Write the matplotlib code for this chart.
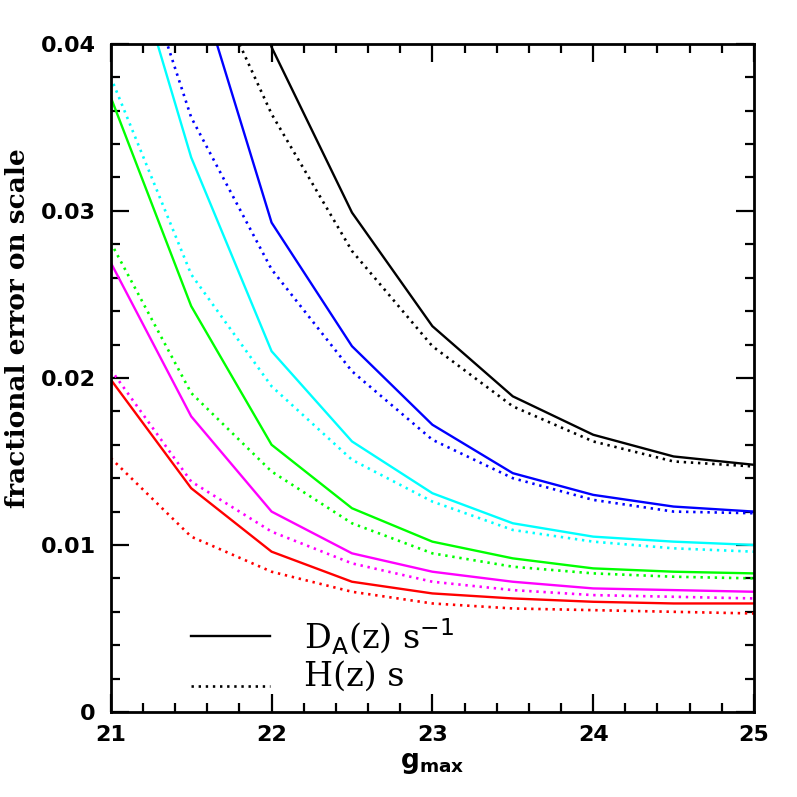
import numpy as np
import matplotlib
matplotlib.use("Agg")
import matplotlib.pyplot as plt
from matplotlib.ticker import MultipleLocator

g_max = [21.0, 21.5, 22.0, 22.5, 23.0, 23.5, 24.0, 24.5, 25.0]

colors = ["black", "blue", "cyan", "lime", "magenta", "red"]

# D_A(z) s^-1 (solid)
da_black = [0.080, 0.056, 0.0398, 0.0299, 0.0231, 0.0189, 0.0166, 0.0153, 0.0148]
da_blue = [0.065, 0.0450, 0.0293, 0.0219, 0.0172, 0.0143, 0.0130, 0.0123, 0.0120]
da_cyan = [0.0494, 0.0332, 0.0216, 0.0162, 0.0131, 0.0113, 0.0105, 0.0102, 0.0100]
da_green = [0.0368, 0.0243, 0.0160, 0.0122, 0.0102, 0.0092, 0.0086, 0.0084, 0.0083]
da_magenta = [0.0269, 0.0177, 0.0120, 0.0095, 0.0084, 0.0078, 0.0074, 0.0073, 0.0072]
da_red = [0.0199, 0.0134, 0.0096, 0.0078, 0.0071, 0.0068, 0.0066, 0.0065, 0.0065]

# H(z) s (dotted)
h_black = [0.065, 0.0463, 0.0358, 0.0276, 0.0219, 0.0183, 0.0162, 0.0150, 0.0147]
h_blue = [0.0503, 0.0356, 0.0265, 0.0204, 0.0163, 0.0140, 0.0127, 0.0120, 0.0119]
h_cyan = [0.0380, 0.0262, 0.0195, 0.0151, 0.0126, 0.0109, 0.0102, 0.0098, 0.0096]
h_green = [0.0281, 0.0191, 0.0144, 0.0113, 0.0095, 0.0087, 0.0083, 0.0081, 0.0080]
h_magenta = [0.0205, 0.0138, 0.0108, 0.0089, 0.0078, 0.0073, 0.0070, 0.0069, 0.0068]
h_red = [0.0152, 0.0105, 0.0084, 0.0072, 0.0065, 0.0062, 0.0061, 0.0060, 0.0059]

da_all = [da_black, da_blue, da_cyan, da_green, da_magenta, da_red]
h_all = [h_black, h_blue, h_cyan, h_green, h_magenta, h_red]

dotted = (0, (0.9, 1.8))

fig = plt.figure(figsize=(7.97, 7.97), dpi=100)
ax = fig.add_axes([0.139, 0.1066, 0.807, 0.8384])

for c, da, h in zip(colors, da_all, h_all):
    ax.plot(g_max, da, color=c, lw=1.7, solid_joinstyle="miter")
    ax.plot(g_max, h, color=c, lw=1.9, linestyle=dotted)

ax.set_xlim(21, 25)
ax.set_ylim(0, 0.04)
ax.xaxis.set_minor_locator(MultipleLocator(0.2))
ax.yaxis.set_minor_locator(MultipleLocator(0.002))
ax.set_yticks([0, 0.01, 0.02, 0.03, 0.04])
ax.set_yticklabels(["0", "0.01", "0.02", "0.03", "0.04"])
ax.set_xticks([21, 22, 23, 24, 25])
ax.set_xticklabels(["21", "22", "23", "24", "25"])

ax.tick_params(which="both", direction="in", top=True, right=True, width=1.6)
ax.tick_params(which="major", length=13)
ax.tick_params(which="minor", length=6.5)
ax.tick_params(axis="y", labelsize=16, pad=11)
ax.tick_params(axis="x", labelsize=16, pad=9)
for lab in ax.get_xticklabels() + ax.get_yticklabels():
    lab.set_fontweight("bold")
for sp in ax.spines.values():
    sp.set_linewidth(2)

ax.set_xlabel(r"$\mathbf{g_{max}}$", fontsize=19, labelpad=4)
ax.set_ylabel("fractional error on scale", fontsize=19, fontweight="bold",
              family="DejaVu Serif")
ax.yaxis.set_label_coords(-0.126, 0.575)

# legend drawn by hand in data coordinates
ax.plot([21.5, 21.99], [0.00455, 0.00455], color="black", lw=1.7)
ax.plot([21.5, 21.99], [0.00156, 0.00156], color="black", lw=1.9, linestyle=dotted)
ax.text(22.2, 0.0045, r"D$_\mathrm{A}$(z) s$^{-1}$", fontsize=24,
        family="DejaVu Serif", va="center", ha="left")
ax.text(22.2, 0.0021, "H(z) s", fontsize=24, family="DejaVu Serif",
        va="center", ha="left")

fig.savefig("out.png", dpi=100)
